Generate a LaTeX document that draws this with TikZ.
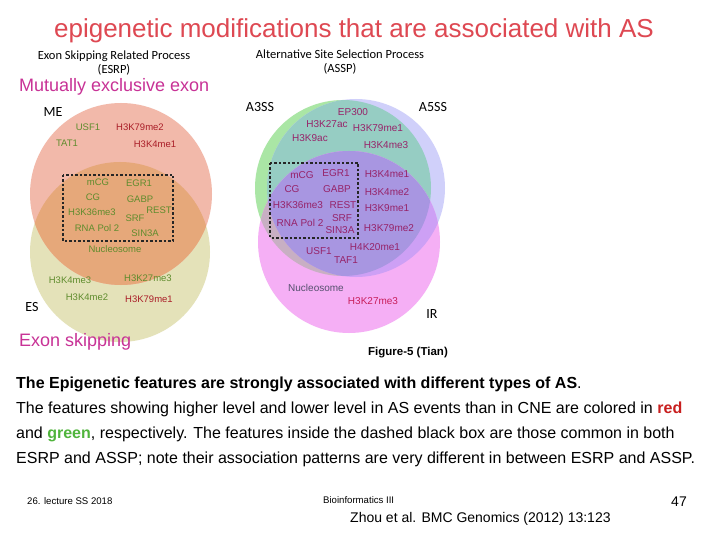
\documentclass[tikz,border=0pt]{standalone}
\usepackage{fontspec}
\setmainfont{Liberation Sans}
\newfontfamily\calib{Carlito}
\definecolor{titlered}{RGB}{222,72,82}
\definecolor{magtext}{RGB}{200,50,150}
\definecolor{mepink}{RGB}{242,185,170}
\definecolor{esbeige}{RGB}{228,226,185}
\definecolor{ovorange}{RGB}{230,168,122}
\definecolor{lgreen}{RGB}{95,140,45}
\definecolor{lred}{RGB}{170,30,40}
\definecolor{cgreen}{RGB}{170,230,165}
\definecolor{cblue}{RGB}{208,208,250}
\definecolor{cteal}{RGB}{150,205,195}
\definecolor{cpink}{RGB}{245,175,245}
\definecolor{cgp}{RGB}{200,175,195}
\definecolor{cbp}{RGB}{205,160,245}
\definecolor{call}{RGB}{168,150,225}
\definecolor{rtext}{RGB}{150,35,105}
\definecolor{rnuc}{RGB}{85,80,110}
\definecolor{rred}{RGB}{200,30,90}
\definecolor{boldred}{RGB}{200,30,30}
\definecolor{boldgreen}{RGB}{80,180,60}
\begin{document}
\begin{tikzpicture}[x=1pt,y=-1pt,
  lbl/.style={font=\fontsize{9.5}{10}\selectfont, inner sep=0pt},
  rlbl/.style={font=\fontsize{10}{10}\selectfont, inner sep=0pt},
  hdr/.style={font=\calib\fontsize{12.5}{13.5}\selectfont, inner sep=0pt, align=center},
  setlbl/.style={font=\calib\fontsize{14}{15}\selectfont, inner sep=0pt},
  para/.style={font=\fontsize{16}{18}\selectfont, inner sep=0pt, anchor=west},
  captxt/.style={font=\fontsize{18}{20}\selectfont, text=magtext, inner sep=0pt, anchor=west},
  dbox/.style={draw=black!85, line width=1.6pt, dash pattern=on 2.5pt off 2pt}]
\useasboundingbox (0,0) rectangle (720,540);
\fill[white] (0,0) rectangle (720,540);

% title
\node[font=\fontsize{26}{28}\selectfont, text=titlered, inner sep=0pt] (title) at (354,31) {epigenetic modifications that are associated with AS};

% headers
\node[hdr] (esrp) at (114,63) {Exon Skipping Related Process\\(ESRP)};
\node[hdr] (assp) at (340,62) {Alternative Site Selection Process\\(ASSP)};

% left Venn
\fill[esbeige] (120,252) circle[radius=90pt];
\fill[mepink] (121,194) circle[radius=91pt];
\begin{scope}
  \clip (121,194) circle[radius=91pt];
  \fill[ovorange] (120,252) circle[radius=90pt];
\end{scope}
\draw[dbox] (63,175) rectangle (173,241);

% right Venn
\fill[cgreen] (343,188) circle[radius=88pt];
\fill[cblue] (356,188) circle[radius=89pt];
\begin{scope}
  \clip (343,188) circle[radius=88pt];
  \fill[cteal] (356,188) circle[radius=89pt];
\end{scope}
\fill[cpink] (349,242) circle[radius=91pt];
\begin{scope}
  \clip (349,242) circle[radius=91pt];
  \fill[cgp] (343,188) circle[radius=88pt];
  \fill[cbp] (356,188) circle[radius=89pt];
  \clip (343,188) circle[radius=88pt];
  \fill[call] (356,188) circle[radius=89pt];
\end{scope}
\draw[dbox] (270,163) rectangle (358,238);

% magenta captions
\node[captxt] (mxe) at (19,87) {Mutually exclusive exon};
\node[captxt] (exs) at (19,342) {Exon skipping};

% left labels
\node[setlbl] (me) at (53,112) {ME};
\node[setlbl] (es) at (32,307) {ES};
\node[lbl, text=lgreen] (l1) at (88,127) {USF1};
\node[lbl, text=lred] (l2) at (140,127) {H3K79me2};
\node[lbl, text=lgreen] (l3) at (67,143) {TAT1};
\node[lbl, text=lred] (l4) at (155,144) {H3K4me1};
\node[lbl, text=lgreen] (l5) at (98,182) {mCG};
\node[lbl, text=lgreen] (l6) at (139,183) {EGR1};
\node[lbl, text=lgreen] (l7) at (93,197) {CG};
\node[lbl, text=lgreen] (l8) at (140,199) {GABP};
\node[lbl, text=lgreen] (l9) at (159,210) {REST};
\node[lbl, text=lgreen] (l10) at (92,212) {H3K36me3};
\node[lbl, text=lgreen] (l11) at (135,218) {SRF};
\node[lbl, text=lgreen] (l12) at (97,228) {RNA Pol 2};
\node[lbl, text=lgreen] (l13) at (145,233) {SIN3A};
\node[lbl, text=lgreen] (l14) at (115,249) {Nucleosome};
\node[lbl, text=lgreen] (l15) at (70,280) {H3K4me3};
\node[lbl, text=lgreen] (l16) at (148,278) {H3K27me3};
\node[lbl, text=lgreen] (l17) at (87,297) {H3K4me2};
\node[lbl, text=lred] (l18) at (149,299) {H3K79me1};

% right labels
\node[setlbl] (a3) at (260,107) {A3SS};
\node[setlbl] (a5) at (433,107) {A5SS};
\node[setlbl] (ir) at (432,314) {IR};
\node[rlbl, text=rtext] (r1) at (353,112) {EP300};
\node[rlbl, text=rtext] (r2) at (327,124) {H3K27ac};
\node[rlbl, text=rtext] (r3) at (378,128) {H3K79me1};
\node[rlbl, text=rtext] (r4) at (310,138) {H3K9ac};
\node[rlbl, text=rtext] (r5) at (386,145) {H3K4me3};
\node[rlbl, text=rtext] (r6) at (302,175) {mCG};
\node[rlbl, text=rtext] (r7) at (336,173) {EGR1};
\node[rlbl, text=rtext] (r8) at (387,174) {H3K4me1};
\node[rlbl, text=rtext] (r9) at (292,189) {CG};
\node[rlbl, text=rtext] (r10) at (337,189) {GABP};
\node[rlbl, text=rtext] (r11) at (387,192) {H3K4me2};
\node[rlbl, text=rtext] (r12) at (298,205) {H3K36me3};
\node[rlbl, text=rtext] (r13) at (343,205) {REST};
\node[rlbl, text=rtext] (r14) at (387,208) {H3K9me1};
\node[rlbl, text=rtext] (r15) at (300,223) {RNA Pol 2};
\node[rlbl, text=rtext] (r16) at (342,218) {SRF};
\node[rlbl, text=rtext] (r17) at (340,230) {SIN3A};
\node[rlbl, text=rtext] (r18) at (389,228) {H3K79me2};
\node[rlbl, text=rtext] (r19) at (319,251) {USF1};
\node[rlbl, text=rtext] (r20) at (375,247) {H4K20me1};
\node[rlbl, text=rtext] (r21) at (346,260) {TAF1};
\node[rlbl, text=rnuc] (r22) at (316,288) {Nucleosome};
\node[rlbl, text=rred] (r23) at (373,301) {H3K27me3};

\node[font=\bfseries\fontsize{11.5}{12}\selectfont, inner sep=0pt] (fig) at (408,353) {Figure-5 (Tian)};

% paragraph
\node[para] (p1) at (16,384) {\textbf{The Epigenetic features are strongly associated with different types of AS}.};
\node[para] (p2) at (16,409) {The features showing higher level and lower level in AS events than in CNE are colored in \textbf{\textcolor{boldred}{red}}};
\node[para] (p3) at (16,434) {and \textbf{\textcolor{boldgreen}{green}}, respectively. The features inside the dashed black box are those common in both};
\node[para] (p4) at (16,459) {ESRP and ASSP; note their association patterns are very different in between ESRP and ASSP.};

% footer
\node[font=\fontsize{9.6}{10}\selectfont, inner sep=0pt, anchor=west] (f1) at (27,501) {26. lecture SS 2018};
\node[font=\fontsize{9.6}{10}\selectfont, inner sep=0pt, anchor=west] (f2) at (323,500) {Bioinformatics III};
\node[font=\fontsize{14}{15}\selectfont, inner sep=0pt, anchor=west] (f3) at (350,519) {Zhou et al. BMC Genomics (2012) 13:123};
\node[font=\fontsize{14}{15}\selectfont, inner sep=0pt] (f4) at (679,502) {47};
\end{tikzpicture}
\end{document}
